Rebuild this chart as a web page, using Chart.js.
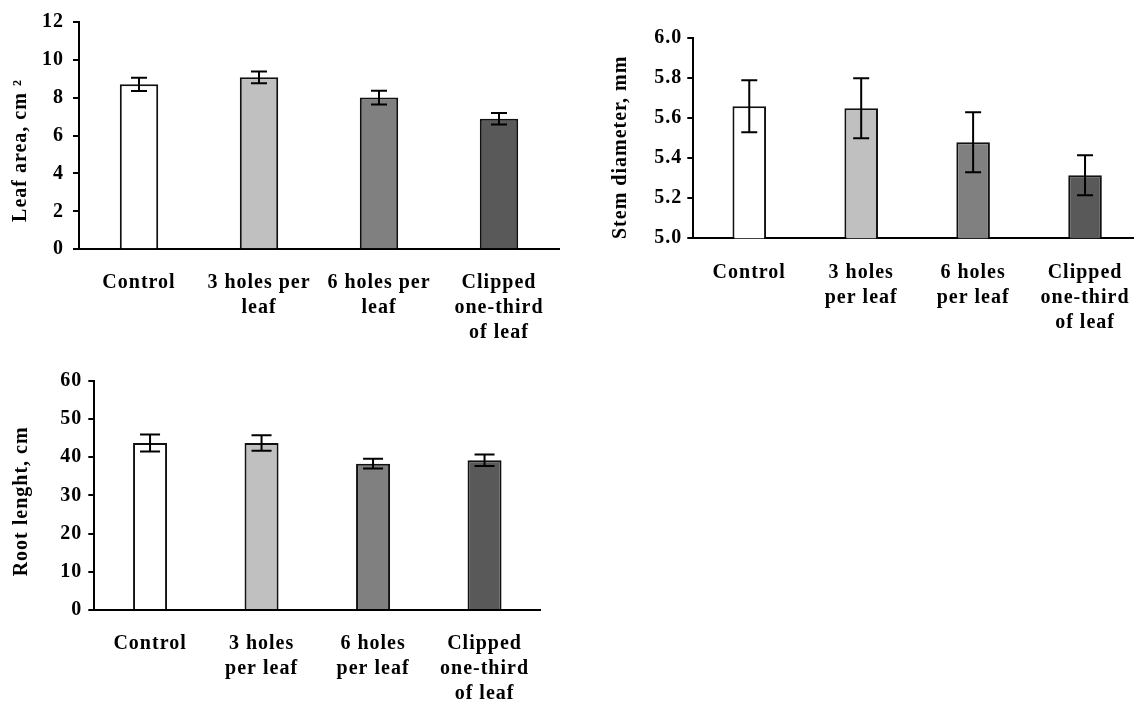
<!DOCTYPE html>
<html>
<head>
<meta charset="utf-8">
<script src="https://cdn.jsdelivr.net/npm/chart.js@4.4.0/dist/chart.umd.min.js"></script>
<style>
  html, body { margin: 0; padding: 0; background: #fff; overflow: hidden; }
  #page { position: relative; width: 1134px; height: 701px; overflow: hidden; }
  canvas { position: absolute; }
</style>
</head>
<body>
<div id="page">
  <canvas id="leaf" width="560" height="350" style="left:0;top:0"></canvas>
  <canvas id="stem" width="541" height="360" style="left:600px;top:0"></canvas>
  <canvas id="root" width="541" height="341" style="left:0;top:360px"></canvas>
</div>
<script>
// Categorias
const labelsWide   = [['Control'], ['3 holes per', 'leaf'], ['6 holes per', 'leaf'], ['Clipped', 'one-third', 'of leaf']];
const labelsNarrow = [['Control'], ['3 holes', 'per leaf'], ['6 holes', 'per leaf'], ['Clipped', 'one-third', 'of leaf']];
const barColors    = ['#ffffff', '#c0c0c0', '#808080', '#595959'];

// Valores + barras de erro
const leafArea        = [8.7, 9.07, 8.0, 6.88];
const leafAreaErr     = [0.35, 0.31, 0.36, 0.3];
const stemDiameter    = [5.66, 5.65, 5.48, 5.315];
const stemDiameterErr = [0.13, 0.15, 0.15, 0.1];
const rootLength      = [43.7, 43.7, 38.3, 39.2];
const rootLengthErr   = [2.2, 2.0, 1.3, 1.5];

// Ticks do eixo y
const leafTicks = [0, 2, 4, 6, 8, 10, 12];
const stemTicks = [5.0, 5.2, 5.4, 5.6, 5.8, 6.0];
const rootTicks = [0, 10, 20, 30, 40, 50, 60];

Chart.defaults.font = { family: '"Times New Roman", "Liberation Serif", serif', size: 20, weight: 'bold' };
Chart.defaults.color = '#000';

// espaçamento entre letras (o original tem texto espaçado)
const spacing = {
  id: 'spacing',
  beforeUpdate(chart) { chart.ctx.letterSpacing = '1px'; },
  beforeDraw(chart) { chart.ctx.letterSpacing = '1px'; }
};

// Barras de erro desenhadas pela escala y
const errorBars = {
  id: 'errorBars',
  afterDatasetsDraw(chart, args, opts) {
    const { ctx, scales: { y } } = chart;
    chart.data.datasets.forEach((ds, i) => {
      const meta = chart.getDatasetMeta(i);
      meta.data.forEach((bar, j) => {
        const v = ds.data[j], e = ds.errors[j];
        const top = y.getPixelForValue(v + e);
        const bot = y.getPixelForValue(v - e);
        const half = opts.cap / 2;
        ctx.save();
        ctx.strokeStyle = '#000';
        ctx.lineWidth = 2;
        ctx.beginPath();
        ctx.moveTo(bar.x, top); ctx.lineTo(bar.x, bot);
        ctx.moveTo(bar.x - half, top); ctx.lineTo(bar.x + half, top);
        ctx.moveTo(bar.x - half, bot); ctx.lineTo(bar.x + half, bot);
        ctx.stroke();
        ctx.restore();
      });
    });
  }
};

// sem padding extra das escalas (o layout é fixo)
function noPad(s) {
  s.paddingLeft = 0; s.paddingRight = 0; s.paddingTop = 0; s.paddingBottom = 0;
}

function makeChart(id, cfg) {
  return new Chart(document.getElementById(id), {
    type: 'bar',
    data: {
      labels: cfg.labels,
      datasets: [{
        data: cfg.values,
        errors: cfg.errors,
        backgroundColor: barColors,
        borderColor: '#111',
        borderWidth: 2,
        barPercentage: cfg.barPct,
        categoryPercentage: 1
      }]
    },
    options: {
      responsive: false,
      animation: false,
      devicePixelRatio: 1,
      layout: { padding: cfg.padding },
      plugins: {
        legend: { display: false },
        tooltip: { enabled: false },
        errorBars: { cap: cfg.cap }
      },
      scales: {
        x: {
          grid: { display: false, drawTicks: false },
          border: { display: true, color: '#000', width: 2 },
          ticks: { autoSkip: false, maxRotation: 0, padding: cfg.xPad, font: { lineHeight: 1.25 } },
          afterFit: s => { s.height = cfg.xHeight; noPad(s); }
        },
        y: {
          min: cfg.ticks[0],
          max: cfg.ticks[cfg.ticks.length - 1],
          grid: { display: true, drawOnChartArea: false, drawTicks: true, tickLength: 6, color: '#000', lineWidth: 2 },
          border: { display: true, color: '#000', width: 2 },
          ticks: { padding: cfg.yPad, callback: cfg.fmt },
          afterBuildTicks: s => { s.ticks = cfg.ticks.map(v => ({ value: v })); },
          afterFit: s => { s.width = cfg.yWidth; noPad(s); },
          title: { display: true, text: cfg.title, padding: { top: cfg.titlePad, bottom: 0 } }
        }
      }
    },
    plugins: [spacing, errorBars]
  });
}

makeChart('leaf', {
  labels: labelsWide, values: leafArea, errors: leafAreaErr, ticks: leafTicks,
  fmt: v => v, title: 'Leaf area, cm \u00b2     ',
  barPct: 0.32, cap: 16, padding: { top: 21.7, right: 1 },
  yWidth: 79, xHeight: 100.7, xPad: 21, yPad: 9, titlePad: 9
});

makeChart('stem', {
  labels: labelsNarrow, values: stemDiameter, errors: stemDiameterErr, ticks: stemTicks,
  fmt: v => Number(v).toFixed(1), title: 'Stem diameter, mm   ',
  barPct: 0.30, cap: 16, padding: { top: 38.3, right: 0 },
  yWidth: 93.3, xHeight: 121.7, xPad: 22.5, yPad: 5, titlePad: 9
});

makeChart('root', {
  labels: labelsNarrow, values: rootLength, errors: rootLengthErr, ticks: rootTicks,
  fmt: v => v, title: 'Root lenght, cm  ',
  barPct: 0.305, cap: 20, padding: { top: 20.7, right: 0.7 },
  yWidth: 94.3, xHeight: 91, xPad: 21, yPad: 6, titlePad: 10
});
</script>
</body>
</html>
